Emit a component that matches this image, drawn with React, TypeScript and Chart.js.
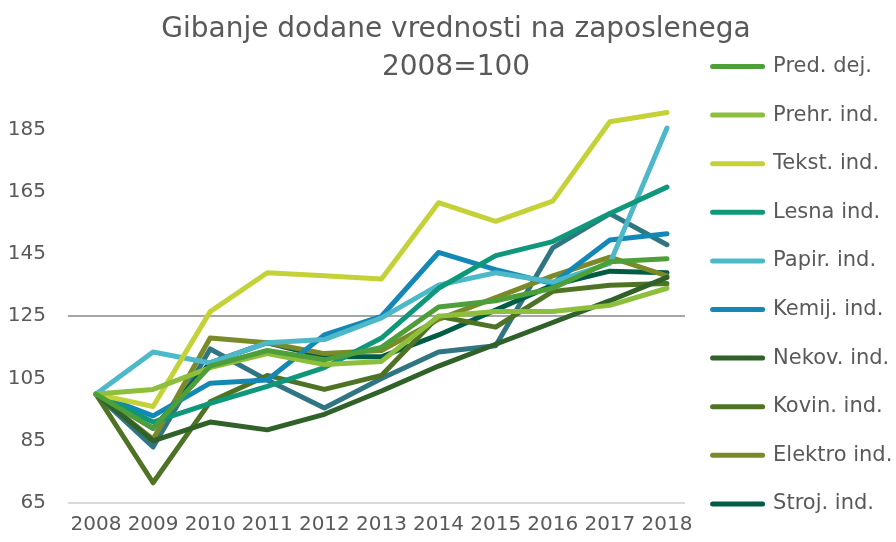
import React, { useEffect, useRef } from 'react';
import { Chart, registerables } from 'chart.js';

Chart.register(...registerables);

const FONT = '"DejaVu Sans", sans-serif';
const TEXT = '#595959';

const titleLines = ['Gibanje dodane vrednosti na zaposlenega', '2008=100'];

const years = [2008, 2009, 2010, 2011, 2012, 2013, 2014, 2015, 2016, 2017, 2018];
const yTicks = [65, 85, 105, 125, 145, 165, 185];

const predDej = [100, 89, 109, 114, 111, 115, 128, 130, 134, 142.5, 143.5];
const prehrInd = [100, 101.5, 108.5, 113, 109.5, 110.5, 125, 126.5, 126.5, 128.5, 134];
const tekstInd = [100, 96, 126.5, 139, 138, 137, 161.5, 155.5, 162, 187.5, 190.5];
const lesnaInd = [100, 91, 97, 102.5, 108.5, 118, 134, 144.5, 149, 158, 166.5];
const papirInd = [100, 113.5, 110, 116.5, 117.5, 124.5, 135, 139, 136, 142, 185.5];
const kemijInd = [100, 93, 103.5, 104.5, 119, 125, 145.5, 140, 135.5, 149.5, 151.5];
const nekovInd = [100, 85, 91, 88.5, 93.5, 101, 109, 116, 123, 130, 137.5];
const kovinInd = [100, 71.5, 97.5, 106, 101.5, 106, 125, 121.5, 133, 135, 135.5];
const elektroInd = [100, 85.5, 118, 116.5, 113, 114, 124, 131, 138, 144, 138];
const strojInd = [100, 89, 110, 116.5, 112, 112, 119, 127, 135, 139.5, 139];
const ostaloInd = [100, 83, 114.5, 104.5, 95.5, 105, 113.5, 115.5, 147, 158, 148];

const seriesNames = [
  'Pred. dej.', 'Prehr. ind.', 'Tekst. ind.', 'Lesna ind.', 'Papir. ind.',
  'Kemij. ind.', 'Nekov. ind.', 'Kovin. ind.', 'Elektro ind.', 'Stroj. ind.', '',
];
const seriesValues = [
  predDej, prehrInd, tekstInd, lesnaInd, papirInd,
  kemijInd, nekovInd, kovinInd, elektroInd, strojInd, ostaloInd,
];
const seriesColors = [
  '#4E9E3A', '#8DBE3C', '#C4D237', '#0F977A', '#4CB8C8',
  '#1488B5', '#2F6128', '#4F7325', '#7A8A28', '#005C45', '#2F7582',
];
const legendCount = 10;

const titlePlugin = {
  id: 'customTitle',
  afterDraw(chart: any) {
    const ctx = chart.ctx;
    ctx.save();
    ctx.font = `28px ${FONT}`;
    ctx.fillStyle = TEXT;
    ctx.textAlign = 'center';
    ctx.textBaseline = 'middle';
    ctx.fillText(titleLines[0], 456, 30);
    ctx.fillText(titleLines[1], 456, 68);
    ctx.restore();
  },
};

export default function App() {
  const ref = useRef<HTMLCanvasElement | null>(null);

  useEffect(() => {
    document.body.style.margin = '0';
    const canvas = ref.current;
    if (!canvas) return;
    const datasets = seriesValues.map((vals, i) => ({
      label: seriesNames[i],
      data: vals.map((v, j) => ({ x: years[j], y: v })),
      borderColor: seriesColors[i],
      backgroundColor: seriesColors[i],
      borderWidth: 5,
      pointRadius: 0,
      pointHoverRadius: 0,
      tension: 0,
      fill: false,
      borderJoinStyle: 'round' as const,
      borderCapStyle: 'round' as const,
    }));
    const chart = new Chart(canvas, {
      type: 'line',
      data: { datasets },
      plugins: [titlePlugin],
      options: {
        responsive: false,
        animation: false,
        layout: { padding: { top: 0, bottom: 0, left: 10, right: 0 } },
        plugins: {
          title: { display: false },
          tooltip: { enabled: false },
          legend: {
            position: 'right',
            align: 'end',
            maxWidth: 211,
            labels: {
              usePointStyle: true,
              pointStyle: 'line',
              pointStyleWidth: 50,
              padding: 27.6,
              color: TEXT,
              font: { family: FONT, size: 21 },
              filter: (item: any) => item.datasetIndex < legendCount,
              generateLabels: (c: any) =>
                (Chart.defaults.plugins.legend.labels.generateLabels as any)(c).map((l: any) => ({
                  ...l,
                  lineCap: 'round',
                  lineWidth: 5,
                })),
            },
          },
        },
        scales: {
          x: {
            type: 'linear',
            min: 2007.51,
            max: 2018.316,
            afterBuildTicks: (s: any) => {
              s.ticks = years.map((v) => ({ value: v }));
            },
            afterFit: (s: any) => {
              s.height = 39;
            },
            ticks: {
              callback: (v: any) => String(v),
              color: TEXT,
              font: { family: FONT, size: 20, lineHeight: 1.2 },
              padding: 10,
              autoSkip: false,
              maxRotation: 0,
            },
            grid: { display: false, drawTicks: false },
            border: { display: false },
          },
          y: {
            min: 65,
            max: 215.7,
            afterBuildTicks: (s: any) => {
              s.ticks = yTicks.map((v) => ({ value: v }));
            },
            afterFit: (s: any) => {
              s.width = 58;
            },
            ticks: {
              color: TEXT,
              font: { family: FONT, size: 20 },
              padding: 22,
            },
            grid: {
              drawTicks: false,
              lineWidth: 2,
              color: (ctx: any) =>
                ctx.tick && ctx.tick.value === 125
                  ? '#A6A6A6'
                  : ctx.tick && ctx.tick.value === 65
                  ? '#D9D9D9'
                  : 'rgba(0,0,0,0)',
            },
            border: { display: false },
          },
        },
      },
    });
    return () => chart.destroy();
  }, []);

  return (
    <div style={{ width: 896, height: 542 }}>
      <canvas ref={ref} width={896} height={542} style={{ display: 'block' }} />
    </div>
  );
}
